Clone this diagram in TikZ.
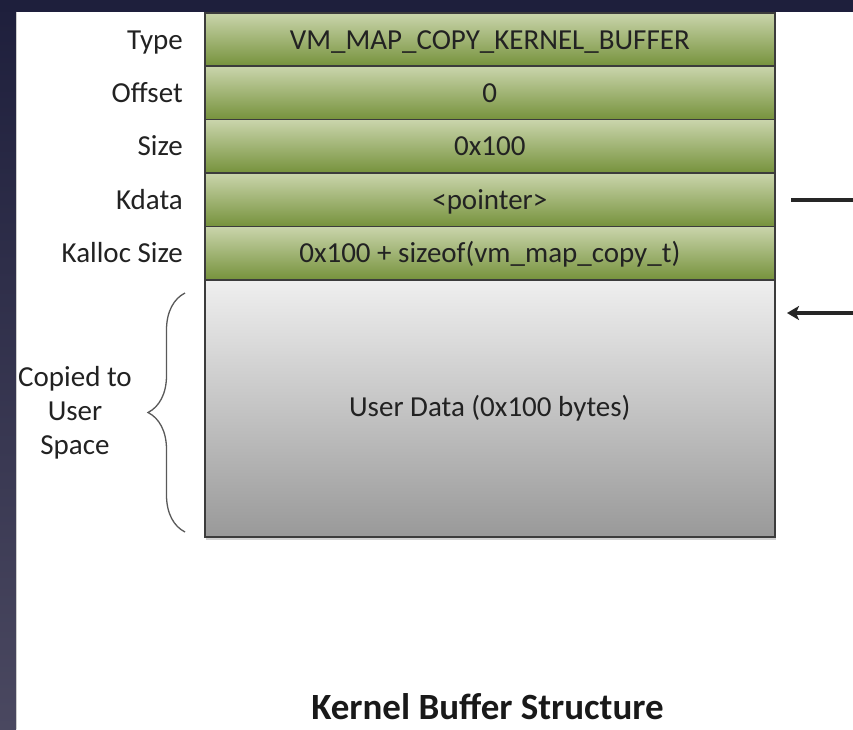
\documentclass[tikz,border=0pt]{standalone}
\usepackage{fontspec}
\setmainfont{Carlito}
\usetikzlibrary{arrows.meta,decorations.pathreplacing}

\definecolor{navy}{HTML}{1E1F3C}
\definecolor{navylow}{HTML}{4A4860}
\definecolor{rowedge}{HTML}{3C3C3C}
\definecolor{greenhi}{HTML}{CAD5AC}
\definecolor{greenlo}{HTML}{76923C}
\definecolor{grayhi}{HTML}{EFEFEF}
\definecolor{graylo}{HTML}{999999}
\definecolor{ink}{HTML}{222222}

\begin{document}
\begin{tikzpicture}[x=1pt,y=-1pt,
  txt/.style={font=\fontsize{29}{34}\selectfont, text=ink},
  field/.style={txt, draw=rowedge, line width=1.6pt, minimum width=570pt,
    minimum height=53.4pt, anchor=north west, inner sep=0pt,
    text height=19pt, text depth=0pt, top color=greenhi, bottom color=greenlo},
  fieldname/.style={txt, anchor=east, inner sep=0pt, text height=19pt, text depth=0pt},
  wire/.style={line width=3.2pt, draw=black!85},
]
% page and slide frame
\useasboundingbox (0,0) rectangle (853,729);
\fill[white] (0,0) rectangle (853,729);
\shade[top color=navy, bottom color=navylow] (0,0) rectangle (16,729);
\fill[navy] (0,0) rectangle (853,11.5);
\draw[black!20, line width=1pt] (16.5,11.5) -- (16.5,729);

% soft shadow under the structure
\fill[black!18] (206,536) rectangle (776,539.5);

% header fields
\node[field] (type)   at (204,12)    {VM\_MAP\_COPY\_KERNEL\_BUFFER};
\node[field] (offset) at (204,65.4)  {0};
\node[field] (size)   at (204,118.8) {0x100};
\node[field] (kdata)  at (204,172.2) {<pointer>};
\node[field] (kalloc) at (204,225.6) {0x100 + sizeof(vm\_map\_copy\_t)};

% payload
\node[txt, draw=rowedge, line width=1.6pt, minimum width=570pt, minimum height=257pt,
  anchor=north west, inner sep=0pt, top color=grayhi, bottom color=graylo]
  (userdata) at (204,279) {User Data (0x100 bytes)};

% field names
\node[fieldname] (ltype)   at ([xshift=-21pt]type.west)   {Type};
\node[fieldname] (loffset) at ([xshift=-21pt]offset.west) {Offset};
\node[fieldname] (lsize)   at ([xshift=-21pt]size.west)   {Size};
\node[fieldname] (lkdata)  at ([xshift=-21pt]kdata.west)  {Kdata};
\node[fieldname] (lkalloc) at ([xshift=-21pt]kalloc.west) {Kalloc Size};

% brace over the copied region
\coordinate (brbot) at (185,532);
\coordinate (brtop) at (185,293);
\draw[black!65, line width=1.3pt, decorate, decoration={brace, amplitude=37pt}]
  (brbot) -- (brtop);
\node[txt, align=center, inner sep=0pt] (copied) at (75,413) {Copied to\\User\\Space};

% pointer out of the Kdata field and back into the payload
\coordinate (kdstart) at (791,200);
\coordinate (kdend)   at (853,200);
\draw[wire] (kdstart) -- (kdend);
\coordinate (ptrfrom) at (853,313);
\coordinate (ptrto)   at (787,313);
\draw[wire, -{Stealth[length=12pt, width=14pt, inset=3pt]}] (ptrfrom) -- (ptrto);

% caption
\node[font=\bfseries\fontsize{37}{44}\selectfont, text=black!90, anchor=base]
  (caption) at (487.5,719) {Kernel Buffer Structure};
\end{tikzpicture}
\end{document}
